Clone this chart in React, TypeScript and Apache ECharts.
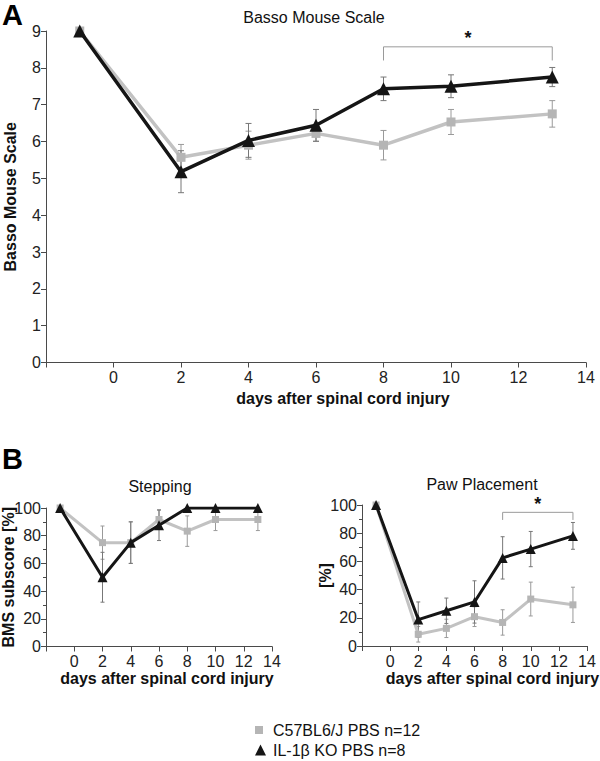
import React, { useEffect, useRef } from "react";
import * as echarts from "echarts";

const days = [-1, 2, 4, 6, 8, 10, 13];
const xTicks = [0, 2, 4, 6, 8, 10, 12, 14];

const wtName = "C57BL6/J PBS n=12";
const koName = "IL-1β KO PBS n=8";

const bmsWT = [9, 5.57, 5.9, 6.22, 5.9, 6.53, 6.75];
const bmsWTErr = [0, 0.35, 0.38, 0.22, 0.4, 0.34, 0.36];
const bmsKO = [9, 5.18, 6.03, 6.44, 7.43, 7.5, 7.75];
const bmsKOErr = [0, 0.57, 0.46, 0.43, 0.32, 0.31, 0.26];

const stepWT = [100, 75, 75, 91.7, 83.3, 91.7, 91.7];
const stepWTErr = [0, 12, 15, 7, 11, 8, 8];
const stepKO = [100, 50, 75, 87.5, 100, 100, 100];
const stepKOErr = [0, 18, 15, 11, 0, 0, 0];

const pawWT = [100, 8.3, 12.5, 20.8, 16.7, 33.3, 29.2];
const pawWTErr = [0, 5.5, 6.5, 7, 9, 12, 12.5];
const pawKO = [100, 18.75, 25, 31.25, 62.5, 68.75, 78.1];
const pawKOErr = [0, 12.5, 9, 15, 15, 12.5, 9.5];

// significance brackets: [fromDay, toDay, yTop, yTip]
const bmsBracket = [8, 13, 8.57, 8.2];
const bmsStar = [10.5, 8.82];
const pawBracket = [8, 13, 94.8, 89.4];
const pawStar = [10.5, 100.5];

const FONT = "'Liberation Sans', Arial, Helvetica, sans-serif";
const GRAY = "#c2c2c2";
const BLACK = "#151515";
const AXIS = "#4a4a4a";

function pts(vals: number[]) {
  return days.map((d, i) => [d, vals[i]]);
}
function errData(vals: number[], errs: number[]) {
  return days
    .map((d, i) => [d, vals[i] - errs[i], vals[i] + errs[i]])
    .filter((r, i) => errs[i] > 0);
}

function errSeries(gi: number, vals: number[], errs: number[], color: string, cap: number) {
  return {
    type: "custom",
    xAxisIndex: gi,
    yAxisIndex: gi,
    silent: true,
    z: 1,
    encode: { x: 0, y: [1, 2] },
    data: errData(vals, errs),
    renderItem: (params: any, api: any) => {
      const x = api.value(0);
      const lo = api.coord([x, api.value(1)]);
      const hi = api.coord([x, api.value(2)]);
      const st = { stroke: color, lineWidth: 1 };
      return {
        type: "group",
        children: [
          { type: "line", shape: { x1: lo[0], y1: lo[1], x2: hi[0], y2: hi[1] }, style: st },
          { type: "line", shape: { x1: lo[0] - cap, y1: lo[1], x2: lo[0] + cap, y2: lo[1] }, style: st },
          { type: "line", shape: { x1: hi[0] - cap, y1: hi[1], x2: hi[0] + cap, y2: hi[1] }, style: st },
        ],
      };
    },
  };
}

function bracketSeries(gi: number, br: number[], star: number[], fs: number) {
  return [
    {
      type: "custom",
      xAxisIndex: gi,
      yAxisIndex: gi,
      silent: true,
      z: 1,
      data: [br],
      renderItem: (params: any, api: any) => {
        const a = api.coord([api.value(0), api.value(3)]);
        const b = api.coord([api.value(0), api.value(2)]);
        const c = api.coord([api.value(1), api.value(2)]);
        const d = api.coord([api.value(1), api.value(3)]);
        return {
          type: "polyline",
          shape: { points: [a, b, c, d] },
          style: { stroke: "#9a9a9a", lineWidth: 1, fill: "none" },
        };
      },
    },
    {
      type: "custom",
      xAxisIndex: gi,
      yAxisIndex: gi,
      silent: true,
      z: 1,
      data: [star],
      renderItem: (params: any, api: any) => {
        const p = api.coord([api.value(0), api.value(1)]);
        return {
          type: "text",
          x: p[0],
          y: p[1],
          style: {
            text: "*",
            fill: "#111",
            font: `bold ${fs}px ${FONT}`,
            align: "center",
            verticalAlign: "middle",
          },
        };
      },
    },
  ];
}

function lineSeries(gi: number, name: string, vals: number[], isKO: boolean, big: boolean) {
  return {
    type: "line",
    name,
    xAxisIndex: gi,
    yAxisIndex: gi,
    data: pts(vals),
    symbol: isKO ? "triangle" : "rect",
    symbolSize: isKO ? (big ? 13 : 10) : big ? 9 : 7,
    showSymbol: true,
    color: isKO ? BLACK : GRAY,
    itemStyle: { color: isKO ? BLACK : "#b5b5b5" },
    lineStyle: { color: isKO ? BLACK : GRAY, width: big ? 3.5 : 3 },
    z: isKO ? 4 : 3,
  };
}

function xAxis(gi: number, padLeft: number, gap: number) {
  return {
    type: "value",
    gridIndex: gi,
    min: -2,
    max: 14,
    interval: 2,
    axisLine: { show: true, onZero: false, lineStyle: { color: AXIS, width: 1 } },
    axisTick: { show: true, length: 5, lineStyle: { color: AXIS } },
    splitLine: { show: false },
    axisLabel: {
      fontSize: 16,
      color: "#222",
      margin: 7,
      fontFamily: FONT,
      formatter: (v: number) => (xTicks.includes(v) ? String(v) : ""),
    },
    name: "days after spinal cord injury",
    nameLocation: "middle",
    nameGap: gap,
    nameMoveOverlap: false,
    nameTextStyle: {
      fontSize: 16,
      fontWeight: "bold",
      color: "#111",
      fontFamily: FONT,
      padding: [0, 0, 0, padLeft],
    },
  };
}

function yAxis(gi: number, max: number, interval: number, name: string, gap: number, minor: boolean) {
  return {
    type: "value",
    gridIndex: gi,
    min: 0,
    max,
    interval,
    axisLine: { show: true, onZero: false, lineStyle: { color: AXIS, width: 1 } },
    axisTick: { show: true, length: 5, lineStyle: { color: AXIS } },
    minorTick: { show: minor, splitNumber: 2, length: 3, lineStyle: { color: AXIS } },
    splitLine: { show: false },
    axisLabel: { fontSize: 16, color: "#222", margin: 5, fontFamily: FONT },
    name,
    nameLocation: "middle",
    nameRotate: 90,
    nameGap: gap,
    nameMoveOverlap: false,
    nameTextStyle: { fontSize: 16, fontWeight: "bold", color: "#111", fontFamily: FONT },
  };
}

const titleStyle = { fontSize: 16, fontWeight: "normal", color: "#111", fontFamily: FONT };
const legendText = { fontSize: 16, color: "#111", fontFamily: FONT };

export default function App() {
  const ref = useRef<HTMLDivElement>(null);
  useEffect(() => {
    if (!ref.current) return;
    const chart = echarts.init(ref.current, undefined, { renderer: "svg" });
    const gridBase = { containLabel: false, outerBoundsMode: "none" };
    const option: any = {
      animation: false,
      backgroundColor: "#ffffff",
      textStyle: { fontFamily: FONT },
      title: [
        { text: "A", left: 2, top: 0, padding: 0, textStyle: { fontSize: 29, fontWeight: "bold", color: "#000", fontFamily: FONT } },
        { text: "B", left: 2, top: 444, padding: 0, textStyle: { fontSize: 29, fontWeight: "bold", color: "#000", fontFamily: FONT } },
        { text: "Basso Mouse Scale", left: 314, top: 9, padding: 0, textAlign: "center", textStyle: titleStyle },
        { text: "Stepping", left: 160, top: 478, padding: 0, textAlign: "center", textStyle: titleStyle },
        { text: "Paw Placement", left: 482, top: 476, padding: 0, textAlign: "center", textStyle: titleStyle },
      ],
      legend: [
        {
          left: 255,
          top: 722,
          padding: 0,
          itemWidth: 8,
          itemHeight: 8,
          textStyle: { ...legendText, padding: [0, 0, 0, 5] },
          data: [{ name: wtName, icon: "rect" }],
        },
        {
          left: 255,
          top: 742,
          padding: 0,
          itemWidth: 11,
          itemHeight: 11,
          textStyle: { ...legendText, padding: [0, 0, 0, 2] },
          data: [{ name: koName, icon: "triangle" }],
        },
      ],
      grid: [
        { ...gridBase, left: 46, top: 31, width: 540, height: 331.5 },
        { ...gridBase, left: 46, top: 508, width: 226, height: 138.5 },
        { ...gridBase, left: 362, top: 505, width: 225, height: 141 },
      ],
      xAxis: [xAxis(0, 54, 28), xAxis(1, 16, 24), xAxis(2, 36, 24)],
      yAxis: [
        yAxis(0, 9, 1, "Basso Mouse Scale", 28, false),
        yAxis(1, 100, 20, "BMS subscore [%]", 30, true),
        yAxis(2, 100, 20, "[%]", 29, true),
      ],
      series: [
        errSeries(0, bmsWT, bmsWTErr, "#9a9a9a", 3),
        errSeries(0, bmsKO, bmsKOErr, "#777777", 3),
        lineSeries(0, wtName, bmsWT, false, true),
        lineSeries(0, koName, bmsKO, true, true),
        ...bracketSeries(0, bmsBracket, bmsStar, 18),

        errSeries(1, stepWT, stepWTErr, "#9a9a9a", 2),
        errSeries(1, stepKO, stepKOErr, "#777777", 2),
        lineSeries(1, wtName, stepWT, false, false),
        lineSeries(1, koName, stepKO, true, false),

        errSeries(2, pawWT, pawWTErr, "#9a9a9a", 2),
        errSeries(2, pawKO, pawKOErr, "#777777", 2),
        lineSeries(2, wtName, pawWT, false, false),
        lineSeries(2, koName, pawKO, true, false),
        ...bracketSeries(2, pawBracket, pawStar, 18),
      ],
    };
    chart.setOption(option);
    return () => chart.dispose();
  }, []);
  return (
    <div
      ref={ref}
      style={{ position: "fixed", left: 0, top: 0, width: 600, height: 761, background: "#fff" }}
    />
  );
}
